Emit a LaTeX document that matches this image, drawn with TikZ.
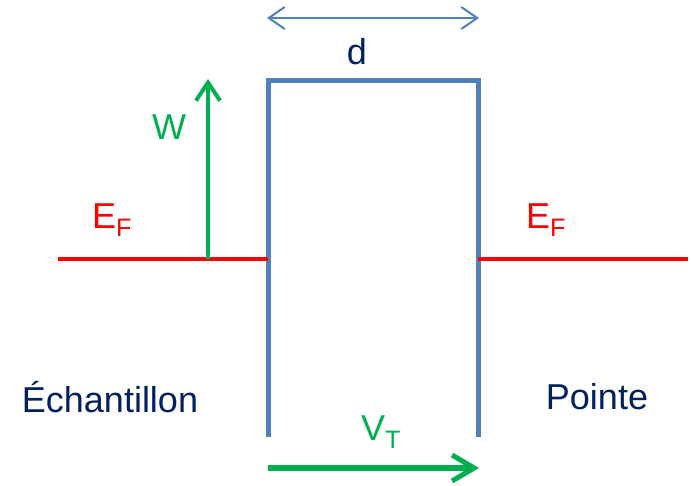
\documentclass[tikz,border=0pt]{standalone}
\usepackage{fontspec}
\setmainfont{Liberation Sans}
\usetikzlibrary{arrows.meta}
\definecolor{barrier}{HTML}{4F81BD}
\definecolor{navy}{HTML}{002060}
\definecolor{grn}{HTML}{00B050}
\definecolor{rd}{HTML}{FF0000}
\begin{document}
\begin{tikzpicture}[x=1pt,y=-1pt,
  lbl/.style={inner sep=0pt,font=\fontsize{36}{40}\selectfont},
  barrierline/.style={barrier,line width=5pt},
  fermi/.style={rd,line width=4pt},
  warrow/.style={grn,line width=4pt,-{Straight Barb[length=18pt,width=24pt,line width=4pt]}},
  varrow/.style={grn,line width=6pt,-{Straight Barb[length=22pt,width=26pt,line width=5pt]}},
  darrow/.style={barrier,line width=2pt,{Straight Barb[length=16pt,width=22pt,line width=2pt]}-{Straight Barb[length=16pt,width=22pt,line width=2pt]}}]
\useasboundingbox (0,0) rectangle (691,485);
% barrier corners
\coordinate (bl) at (268,437);
\coordinate (tl) at (268,80);
\coordinate (tr) at (478,80);
\coordinate (br) at (478,437);
\draw[barrierline,line join=miter] (bl) -- (tl) -- (tr) -- (br);
% Fermi levels
\coordinate (fl0) at (58,259);
\coordinate (fl1) at (268,259);
\coordinate (fr0) at (478,259);
\coordinate (fr1) at (688,259);
\draw[fermi] (fl0) -- (fl1);
\draw[fermi] (fr0) -- (fr1);
% W arrow
\coordinate (w0) at (208,259);
\coordinate (w1) at (208,79);
\draw[warrow] (w0) -- (w1);
% d arrow
\coordinate (d0) at (267,18);
\coordinate (d1) at (479,18);
\draw[darrow] (d0) -- (d1);
% V_T arrow
\coordinate (v0) at (268,468);
\coordinate (v1) at (479,468);
\draw[varrow] (v0) -- (v1);
% labels
\node[lbl,text=navy] (d) at (357,52) {d};
\node[lbl,text=grn] (W) at (169,127) {W};
\node[lbl,text=rd] (EFl) at (112,220) {E\textsubscript{F}};
\node[lbl,text=rd] (EFr) at (546,220) {E\textsubscript{F}};
\node[lbl,text=navy] (ech) at (110,397) {Échantillon};
\node[lbl,text=navy] (pt) at (597,397) {Pointe};
\node[lbl,text=grn] (VT) at (381,432) {V\textsubscript{T}};
\end{tikzpicture}
\end{document}
